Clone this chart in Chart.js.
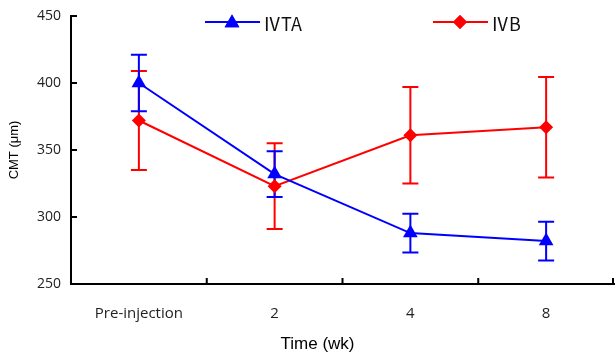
<!DOCTYPE html>
<html lang="ko">
<head>
  <meta charset="UTF-8" />
  <title>CMT</title>
  <style>
    html, body { margin: 0; padding: 0; background: #fff; overflow: hidden; }
    canvas { display: block; }
  </style>
</head>
<body>
  <canvas id="cmtChart" width="615" height="354"></canvas>

  <script src="https://cdn.jsdelivr.net/npm/chart.js"></script>
  <script>
    // data
    const categories = ['Pre-injection', '2', '4', '8'];
    const ivtaMean = [400, 332, 288, 282];
    const ivtaErr  = [21, 17, 14.5, 14.5];
    const ivbMean  = [372, 323, 361, 367];
    const ivbErr   = [37, 32, 36, 37.5];
    const yTicks   = [250, 300, 350, 400, 450];

    const BLUE = '#0000ff';
    const RED = '#ff0000';
    const tickFont = '"Open Sans", "Noto Sans", sans-serif';

    // error bars + inward tick marks + legend + x title
    const extras = {
      id: 'extras',
      beforeDatasetsDraw(chart) {
        const ctx = chart.ctx;
        const x = chart.scales.x, y = chart.scales.y;
        const bars = [[ivbMean, ivbErr, RED], [ivtaMean, ivtaErr, BLUE]];
        ctx.save();
        ctx.lineWidth = 2;
        bars.forEach(([mean, err, col]) => {
          ctx.strokeStyle = col;
          mean.forEach((m, i) => {
            const px = x.getPixelForValue(i);
            const top = y.getPixelForValue(m + err[i]);
            const bot = y.getPixelForValue(m - err[i]);
            ctx.beginPath();
            ctx.moveTo(px, top); ctx.lineTo(px, bot);
            ctx.moveTo(px - 8, top); ctx.lineTo(px + 8, top);
            ctx.moveTo(px - 8, bot); ctx.lineTo(px + 8, bot);
            ctx.stroke();
          });
        });
        ctx.restore();
      },
      afterDraw(chart) {
        const ctx = chart.ctx;
        const a = chart.chartArea;
        const x = chart.scales.x, y = chart.scales.y;
        ctx.save();
        // tick marks pointing inward
        ctx.strokeStyle = '#000';
        ctx.lineWidth = 2;
        ctx.beginPath();
        yTicks.slice(1).forEach(v => {
          const py = y.getPixelForValue(v);
          ctx.moveTo(a.left, py); ctx.lineTo(a.left + 6, py);
        });
        for (let i = 0; i < categories.length; i++) {
          const px = i < categories.length - 1
            ? (x.getPixelForValue(i) + x.getPixelForValue(i + 1)) / 2
            : a.right - 1;
          ctx.moveTo(px, a.bottom); ctx.lineTo(px, a.bottom - 6);
        }
        ctx.stroke();

        // legend
        const items = [
          { text: 'ⅣTA', col: BLUE, style: 'triangle', x0: 205 },
          { text: 'ⅣB', col: RED, style: 'rectRot', x0: 433 }
        ];
        const ly = 22;
        items.forEach(it => {
          ctx.strokeStyle = it.col;
          ctx.lineWidth = 2;
          ctx.beginPath();
          ctx.moveTo(it.x0, ly); ctx.lineTo(it.x0 + 55, ly);
          ctx.stroke();
          ctx.fillStyle = it.col;
          Chart.helpers.drawPoint(ctx, { pointStyle: it.style, radius: it.style === 'triangle' ? 8.5 : 7, borderWidth: 0 }, it.x0 + 27, it.style === 'triangle' ? ly + 1 : ly);
          ctx.fill();
          ctx.fillStyle = '#111';
          ctx.font = '18px "Noto Sans CJK KR", "Noto Sans", sans-serif';
          ctx.textBaseline = 'middle';
          ctx.textAlign = 'left';
          ctx.fillText(it.text, it.x0 + 58, ly + 2);
        });

        // x axis title
        ctx.fillStyle = '#000';
        ctx.font = '17px "Liberation Sans", Arial, sans-serif';
        ctx.textAlign = 'center';
        ctx.textBaseline = 'middle';
        ctx.fillText('Time (wk)', (a.left + a.right) / 2 - 25, 344);
        ctx.restore();
      }
    };

    const ctx = document.getElementById('cmtChart').getContext('2d');
    new Chart(ctx, {
      type: 'line',
      data: {
        labels: categories,
        datasets: [
          {
            label: 'ⅣTA',
            data: ivtaMean,
            borderColor: BLUE,
            backgroundColor: BLUE,
            borderWidth: 2,
            pointStyle: 'triangle',
            pointRadius: 8.5,
            pointBorderWidth: 0,
            tension: 0
          },
          {
            label: 'ⅣB',
            data: ivbMean,
            borderColor: RED,
            backgroundColor: RED,
            borderWidth: 2,
            pointStyle: 'rectRot',
            pointRadius: 7,
            pointBorderWidth: 0,
            tension: 0
          }
        ]
      },
      options: {
        responsive: false,
        animation: false,
        layout: { autoPadding: false, padding: { top: 16, right: 1, bottom: 0, left: 0 } },
        plugins: {
          legend: { display: false },
          tooltip: { enabled: false }
        },
        scales: {
          x: {
            offset: true,
            grid: { display: false, drawTicks: false },
            border: { color: '#000', width: 2 },
            ticks: {
              padding: 21,
              color: '#222',
              font: { family: tickFont, size: 15 }
            },
            afterFit(s) {
              s.height = 70;
              s.paddingLeft = 0;
              s.paddingRight = 0;
            }
          },
          y: {
            min: 250,
            max: 450,
            afterBuildTicks(s) { s.ticks = yTicks.map(v => ({ value: v })); },
            grid: { display: false, drawTicks: false },
            border: { color: '#000', width: 2 },
            ticks: {
              padding: 10,
              color: '#222',
              font: { family: tickFont, size: 14 }
            },
            title: {
              display: true,
              text: 'CMT (μm)',
              color: '#000',
              font: { family: '"Liberation Sans", Arial, sans-serif', size: 13 },
              padding: { top: 7 }
            },
            afterFit(s) {
              s.width = 71;
              s.paddingTop = 0;
              s.paddingBottom = 0;
            }
          }
        }
      },
      plugins: [extras]
    });
  </script>
</body>
</html>
